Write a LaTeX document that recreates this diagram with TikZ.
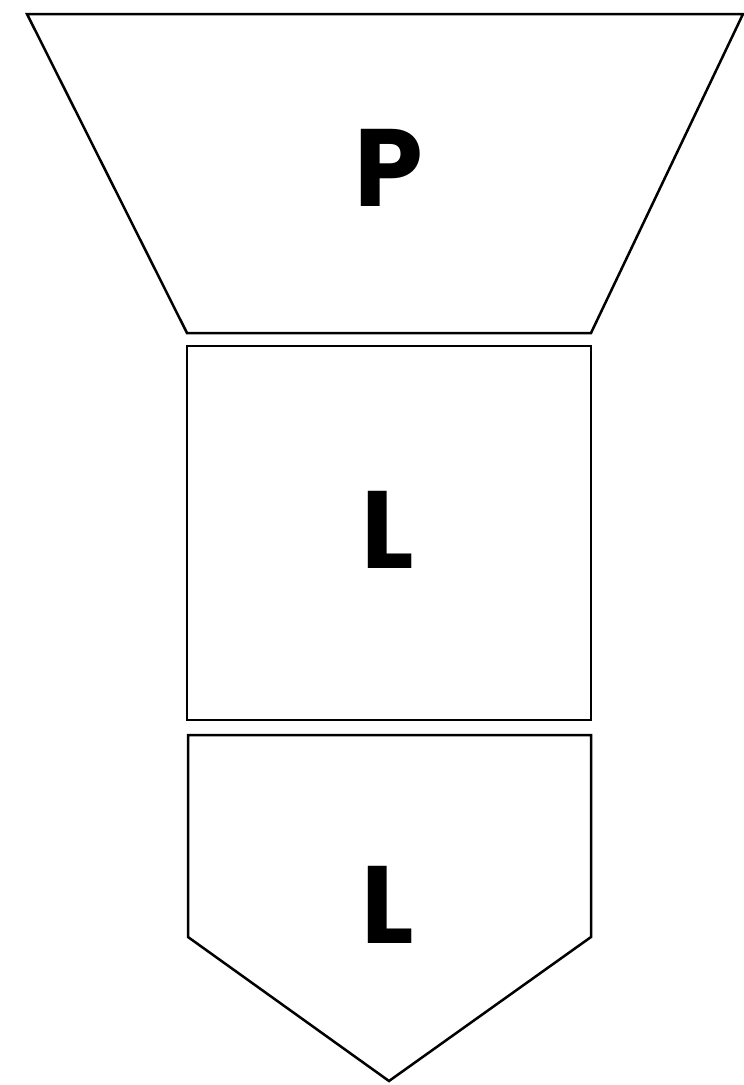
\documentclass[tikz,border=0pt]{standalone}
\usepackage{fontspec}
\newfontfamily\brushfont{Poppins}
\usepackage{tikz}
\usetikzlibrary{positioning, calc}

\tikzset{
    block/.style={draw=black, line width=2.5pt, line join=miter, fill=white},
    letter/.style={font=\brushfont\bfseries\fontsize{110}{110}\selectfont, text=black, inner sep=0pt}
}

\begin{document}
\begin{tikzpicture}[x=1pt, y=-1pt]
    \useasboundingbox (0,0) rectangle (744,1085);
    % Funnel top
    \draw[block] (27,14) -- (743,14) -- (591,333) -- (187,333) -- cycle;
    \node (ptop) [letter] at (389,168) {P};

    % Middle square
    \draw[block] (187,346) rectangle (591,720);
    \node (lmid) [letter] at (388,530) {L};

    % Arrow-shaped bottom
    \draw[block] (188,735) -- (591,735) -- (591,937) -- (389,1081) -- (188,937) -- cycle;
    \node (lbot) [letter] at (388,905) {L};
\end{tikzpicture}
\end{document}
